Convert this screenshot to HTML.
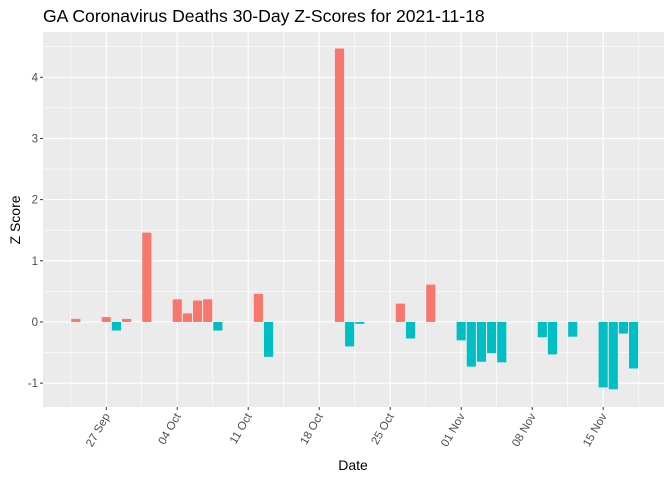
<!DOCTYPE html>
<html><head><meta charset="utf-8"><style>
body{margin:0;background:#fff;}
svg{display:block;font-family:"Liberation Sans",Arial,sans-serif;}
</style></head><body>
<svg id="chart" width="672" height="480">
<text x="43" y="22" font-size="17.6" fill="#000">GA Coronavirus Deaths 30-Day Z-Scores for 2021-11-18</text>
<rect x="43" y="32" width="621" height="375" fill="#ebebeb"/>
<g id="grid"></g>
<g id="bars"></g>
<g id="axes"></g>
<text x="353" y="470" font-size="14" text-anchor="middle" fill="#000">Date</text>
<text transform="translate(20,220) rotate(-90)" font-size="14" text-anchor="middle" fill="#000">Z Score</text>
</svg>
<script>
// day offsets relative to 27 Sep 2021
const days = [-3,0,1,2,4,7,8,9,10,11,15,16,23,24,25,29,30,32,35,36,37,38,39,43,44,46,49,50,51,52];
const values = [0.05,0.08,-0.14,0.05,1.46,0.37,0.14,0.35,0.37,-0.14,0.46,-0.57,4.47,-0.40,-0.03,0.30,-0.27,0.61,-0.30,-0.73,-0.65,-0.51,-0.66,-0.25,-0.53,-0.24,-1.07,-1.10,-0.19,-0.76];
const xTickDays = [0,7,14,21,28,35,42,49];
const xTickLabels = ["27 Sep","04 Oct","11 Oct","18 Oct","25 Oct","01 Nov","08 Nov","15 Nov"];
const yTicks = [-1,0,1,2,3,4];

const NS="http://www.w3.org/2000/svg";
const L=43,R=664,T=32,B=407;
const xMin=-6.24,xMax=55.0,yMin=-1.39,yMax=4.74;
const xs=d=>L+(d-xMin)/(xMax-xMin)*(R-L);
const ys=v=>B-(v-yMin)/(yMax-yMin)*(B-T);
function mk(tag,attrs,parent){const e=document.createElementNS(NS,tag);for(const k in attrs)e.setAttribute(k,attrs[k]);parent.appendChild(e);return e;}
const grid=document.getElementById('grid'),bars=document.getElementById('bars'),axes=document.getElementById('axes');
// minor y grid
for(let i=0;i<yTicks.length;i++){const v=yTicks[i]+0.5;if(v<yMax){const l=mk('line',{x1:L,x2:R,y1:ys(v),y2:ys(v),stroke:'#fff','stroke-width':0.6},grid);

}}
{const v=yTicks[0]-0.5;}
// minor x grid
const minorX=[xTickDays[0]-3.5].concat(xTickDays.map(d=>d+3.5));
minorX.forEach(d=>{if(xs(d)>L&&xs(d)<R){const l=mk('line',{x1:xs(d),x2:xs(d),y1:T,y2:B,stroke:'#fff','stroke-width':0.6},grid);

}});
yTicks.forEach(v=>{const y=ys(v);
const l=mk('line',{x1:L,x2:R,y1:y,y2:y,stroke:'#fff','stroke-width':1.1},grid);


mk('line',{x1:L-3,x2:L,y1:y,y2:y,stroke:'#333','stroke-width':1},axes);
const t=mk('text',{x:L-5,y:y+4,'font-size':11.5,'text-anchor':'end',fill:'#4d4d4d'},axes);t.textContent=v;

});
xTickDays.forEach((d,i)=>{const x=xs(d);
const l=mk('line',{x1:x,x2:x,y1:T,y2:B,stroke:'#fff','stroke-width':1.1},grid);


mk('line',{x1:x,x2:x,y1:B,y2:B+3,stroke:'#333','stroke-width':1},axes);
const t=mk('text',{transform:`translate(${x+4},${B+9}) rotate(-60)`,'font-size':11.5,'text-anchor':'end',fill:'#4d4d4d'},axes);t.textContent=xTickLabels[i];

});
const bw=(xs(1)-xs(0))*0.9;
days.forEach((d,i)=>{const v=values[i];const y0=ys(0),y1=ys(v);
const r=mk('rect',{x:xs(d)-bw/2,y:Math.min(y0,y1),width:bw,height:Math.abs(y1-y0),fill:v>=0?'#F8766D':'#00BFC4'},bars);

});
</script>
</body></html>
